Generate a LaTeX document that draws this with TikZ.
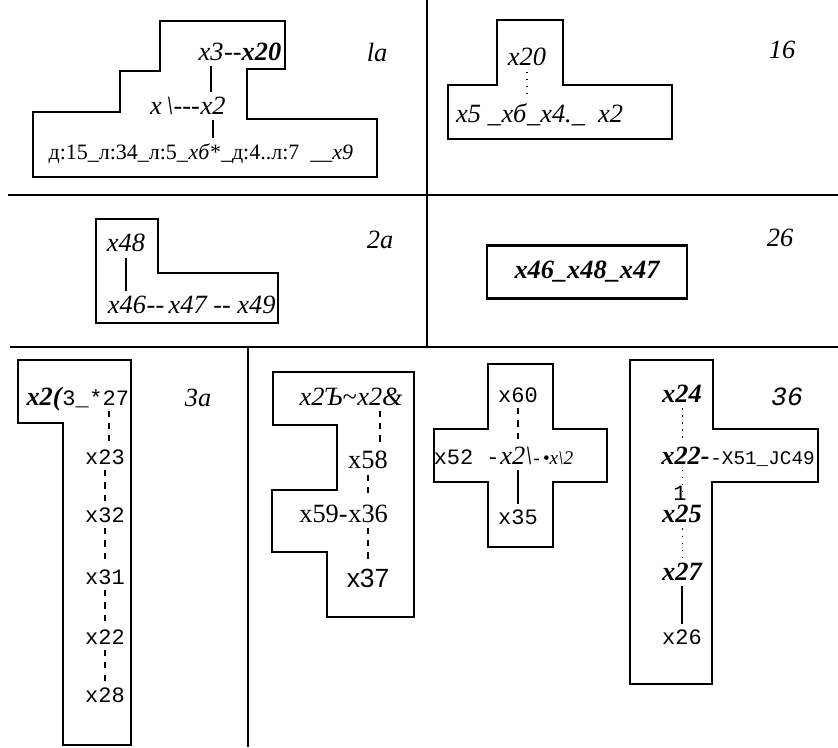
\documentclass[tikz,border=0pt]{standalone}
\usepackage{fontspec}
\setmainfont{Liberation Serif}
\setsansfont{Liberation Sans}
\setmonofont{Liberation Mono}
\usepackage{tikz}
\usetikzlibrary{positioning}
\tikzset{
  rule/.style={draw=black, line width=1.3pt},
  cell/.style={draw=black, line width=1.2pt, line join=miter},
  link/.style={line width=1pt, shorten <=3pt, shorten >=3pt},
  dlink/.style={line width=1.1pt, dash pattern=on 3.5pt off 3.5pt, shorten <=3pt, shorten >=3pt},
  ilink/.style={line width=0.5pt, dash pattern=on 1pt off 3pt, shorten <=3pt, shorten >=3pt},
  var/.style={inner sep=0pt, font=\fontsize{15}{15}\selectfont\itshape},
  bvar/.style={inner sep=0pt, font=\fontsize{15}{15}\selectfont\bfseries\itshape},
  rvar/.style={inner sep=0pt, font=\fontsize{15}{15}\selectfont},
  svar/.style={inner sep=0pt, font=\fontsize{15}{15}\selectfont\sffamily},
  mvar/.style={inner sep=0pt, font=\fontsize{12.5}{12.5}\selectfont\ttfamily},
  tag/.style={inner sep=0pt, font=\fontsize{15}{15}\selectfont\itshape},
}

\begin{document}
\begin{tikzpicture}[x=0.02cm, y=-0.02cm]
  \useasboundingbox (0,0) rectangle (838,747);

  % frame
  \draw[rule] (8,195) -- (838,195);
  \draw[rule] (427,0) -- (427,347);
  \draw[rule] (10,347) -- (838,347);
  \draw[rule] (248,347) -- (248,747);

  % 1a
  \draw[cell] (160,21) -- (285,21) -- (285,69) -- (247,69) -- (247,119) -- (377,119)
    -- (377,177) -- (33,177) -- (33,112) -- (120,112) -- (120,71) -- (160,71) -- cycle;
  \node[var] (a3) at (211,52) {x3};
  \node[var, right=0pt of a3] (a20) {-{}-\textbf{x20}};
  \node[var] (a2) at (213,106) {x2};
  \node[var, anchor=base east] (a1) at (a2.base west) {x\,\textbackslash-{}-{}-};
  \node[var, anchor=base, font=\fontsize{12.5}{12.5}\selectfont\itshape] (a6) at (199,159) {xб};
  \node[rvar, anchor=base east, font=\fontsize{12.5}{12.5}\selectfont] (a0) at (a6.base west) {д:15\_л:34\_л:5\_};
  \node[rvar, anchor=base west, font=\fontsize{12.5}{12.5}\selectfont] (a4) at (a6.base east) {*\_д:4..л:7 \ \_\_\textit{x9}};
  \draw[link] (a3.south) -- (a3.south |- a2.north);
  \draw[link] (a2.south) -- (a2.south |- a6.north);
  \node[tag] (t1a) at (377,52) {la};

  % 1b
  \draw[cell] (497,20) -- (563,20) -- (563,85) -- (672,85) -- (672,139) -- (448,139)
    -- (448,85) -- (497,85) -- cycle;
  \node[var] (b20) at (527,57) {x20};
  \node[var, anchor=base] (b6) at (514,122) {xб};
  \node[var, anchor=base east] (b5) at (b6.base west) {x5 \_};
  \node[var, anchor=base west] (b4) at (b6.base east) {\_x4.\_ \ x2};
  \draw[ilink, line width=1.2pt] (b20.south) -- (b20.south |- b6.north);
  \node[tag] (t1b) at (782,50) {16};

  % 2a
  \draw[cell] (96,219) -- (158,219) -- (158,273) -- (278,273) -- (278,323) -- (96,323) -- cycle;
  \node[var] (c48) at (126,243) {x48};
  \node[var] (c46) at (127,305) {x46};
  \node[var, anchor=base west] (c47) at (c46.base east) {-{}-\,x47 -{}- x49};
  \draw[link] (c48.south) -- (c48.south |- c46.north);
  \node[tag] (t2a) at (380,240) {2a};

  % 2b
  \node[cell, bvar, minimum width=4cm, minimum height=1.06cm] (d0) at (587,272) {x46\_x48\_x47};
  \node[tag] (t2b) at (780,238) {26};

  % 3a
  \draw[cell] (18,360) -- (131,360) -- (131,745) -- (63,745) -- (63,423) -- (18,423) -- cycle;
  \node[bvar, anchor=base east] (e0) at (62,405) {x2(};
  \node[mvar, anchor=base west] (e3) at (e0.base east) {3\_};
  \node[mvar, anchor=base west] (e27) at (e3.base east) {*27};
  \node[mvar] (e23) at (105,457) {x23};
  \node[mvar] (e32) at (105,515) {x32};
  \node[mvar] (e31) at (105,577) {x31};
  \node[mvar] (e22) at (105,637) {x22};
  \node[mvar] (e28) at (105,695) {x28};
  \draw[dlink] (e27.south) -- (e27.south |- e23.north);
  \draw[dlink] (e23) -- (e32);
  \draw[dlink] (e32) -- (e31);
  \draw[dlink] (e31) -- (e22);
  \draw[dlink] (e22) -- (e28);
  \node[tag] (t3a) at (198,398) {3a};

  % 3b, left
  \draw[cell] (273,372) -- (414,372) -- (414,617) -- (327,617) -- (327,552) -- (272,552)
    -- (272,490) -- (337,490) -- (337,425) -- (273,425) -- cycle;
  \node[var, anchor=base east] (f23) at (357,405) {x2Ъ\textasciitilde};
  \node[var, anchor=base west] (f28) at (f23.base east) {x2\&};
  \node[rvar] (f58) at (368,460) {x58};
  \node[rvar, anchor=base east] (f59) at (348,522) {x59-};
  \node[rvar, anchor=base west] (f36) at (f59.base east) {x36};
  \node[svar] (f37) at (368,578) {x37};
  \draw[dlink] (f28.south) -- (f28.south |- f58.north);
  \draw[dlink] (f58.south) -- (f58.south |- f36.north);
  \draw[dlink] (f36.south) -- (f36.south |- f37.north);

  % 3b, middle
  \draw[cell] (488,364) -- (553,364) -- (553,429) -- (607,429) -- (607,482) -- (553,482)
    -- (553,547) -- (488,547) -- (488,482) -- (434,482) -- (434,429) -- (488,429) -- cycle;
  \node[mvar] (g60) at (518,395) {x60};
  \node[mvar, anchor=base east] (g52) at (500,464) {x52 -};
  \node[var, anchor=base west] (g21) at (g52.base east) {x2\textbackslash};
  \node[var, anchor=base west, font=\fontsize{11}{11}\selectfont\itshape] (g12) at (g21.base east) {-\,•x\textbackslash 2};
  \node[mvar] (g35) at (518,517) {x35};
  \draw[dlink] (g60.south) -- (g60.south |- g21.north);
  \draw[link] (g35.north |- g21.south) -- (g35.north);

  % 3b, right
  \draw[cell] (630,360) -- (713,360) -- (713,429) -- (818,429) -- (818,482) -- (712,482)
    -- (712,684) -- (630,684) -- cycle;
  \node[bvar] (h24) at (682,394) {x24};
  \node[bvar, anchor=base east] (h22) at (710,464) {x22-};
  \node[mvar, anchor=base west, font=\fontsize{11}{11}\selectfont\ttfamily] (h51) at (h22.base east) {-X51\_JC49};
  \node[mvar] (h1) at (680,493) {1};
  \node[bvar] (h25) at (682,514) {x25};
  \node[bvar] (h27) at (682,572) {x27};
  \node[mvar] (h26) at (682,637) {x26};
  \draw[ilink] (h24.south) -- (h24.south |- h22.north);
  \draw[ilink] (h25.north |- h22.south) -- (h25.north);
  \draw[ilink] (h25) -- (h27);
  \draw[link] (h27) -- (h26);
  \node[tag, font=\fontsize{15}{15}\selectfont\ttfamily\itshape] (t3b) at (787,397) {36};
\end{tikzpicture}
\end{document}
